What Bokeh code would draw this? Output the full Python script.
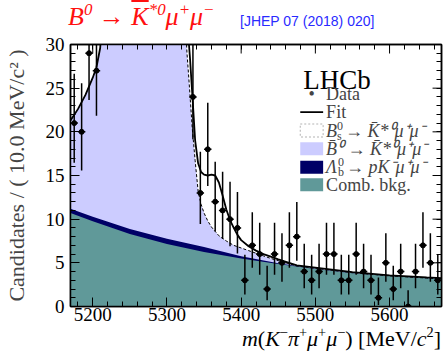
import numpy as np
from bokeh.plotting import figure
from bokeh.layouts import column
from bokeh.models import Label, BoxAnnotation, LinearAxis, FixedTicker, Div
from bokeh.embed import file_html
from bokeh.resources import INLINE

nan = float("nan")

# ---------------- data ----------------
bin_centers = list(range(5175, 5670, 10))          # 10 MeV bins
counts = [21, 20, 29, 27,
          nan, nan, nan, nan, nan, nan, nan, nan, nan, nan, nan, nan,   # off scale
          24, 13, 18, 12, 11, 10, 9, 3, 7, 6,
          2, 6, 5, 7, 8, 4, 3, 4, 6, 6,
          3, 3, 6, 4, 3, 1, 5, 2, 4, 0,
          4, 7, 5, 3]

# total fit
fit_m = [5170, 5180, 5190, 5200, 5205, 5210, 5214, 5222, 5240, 5260, 5280, 5300,
         5315, 5322, 5327, 5331, 5334, 5338, 5342, 5346, 5350, 5355, 5360, 5365,
         5370, 5375, 5380, 5385, 5390, 5395, 5400, 5410, 5420, 5430, 5440, 5450,
         5475, 5500, 5550, 5600, 5650, 5670]
fit_y = [21.3, 22.6, 24.2, 26.2, 27.4, 29.6, 34, 50, 130, 260, 330, 240,
         110, 60, 33, 28.5, 24.5, 19.0, 16.4, 15.4, 15.1, 15.0, 15.1, 15.0,
         14.2, 12.7, 11.1, 9.9, 9.0, 8.2, 7.6, 6.9, 6.4, 6.0, 5.7, 5.4,
         4.72, 4.46, 3.93, 3.57, 3.33, 3.26]

# stacked top of the B0 -> K*0 mu mu component
b0_m = [5170, 5180, 5190, 5200, 5205, 5210, 5214, 5222, 5240, 5260, 5280, 5300,
        5315, 5320, 5324, 5327, 5330, 5334, 5338, 5342, 5346, 5350, 5355, 5360,
        5365, 5370, 5380, 5390, 5400, 5410, 5420, 5430, 5440, 5450, 5475, 5500,
        5550, 5600, 5650, 5670]
b0_top = [21.3, 22.6, 24.2, 26.2, 27.4, 29.6, 34, 50, 130, 260, 330, 240,
          110, 55, 34, 29.0, 25.5, 20.5, 16.7, 13.2, 11.7, 10.7, 9.8, 9.1,
          8.6, 8.1, 7.5, 7.0, 6.7, 6.4, 6.1, 5.8, 5.5, 5.25, 4.65, 4.38,
          3.87, 3.51, 3.26, 3.18]

# combinatorial background and Lambda_b (stacked tops)
comb_m = [5170, 5200, 5250, 5300, 5350, 5400, 5450, 5500, 5550, 5600, 5650, 5670]
comb_top = [10.7, 9.75, 8.3, 7.15, 6.25, 5.5, 4.87, 4.3, 3.82, 3.48, 3.24, 3.16]
lb_top = [11.2, 10.27, 8.86, 7.77, 6.8, 5.75, 4.94, 4.32, 3.82, 3.48, 3.24, 3.16]

x_major = [5200, 5300, 5400, 5500, 5600]
x_minor = list(range(5180, 5670, 20))
y_major = [0, 5, 10, 15, 20, 25, 30]
y_minor = list(range(0, 31))

# ---------------- colours / fonts ----------------
C_B0 = "#ccccff"
C_LB = "#000066"
C_COMB = "#609999"
SERIF = "Liberation Serif"
SANS = "Liberation Sans"

W = 443
HEAD_H = 32
FOOT_H = 20
MAIN_H = 351 - HEAD_H - FOOT_H

X0, X1, Y0, Y1 = 5170, 5670, 0, 30
# frame position on the page
FL, FR, FT, FB = 68.0, 441.0, 44.0, 306.0


def mx(px):
    return X0 + (px - FL) * (X1 - X0) / (FR - FL)


def cy(py):
    return Y0 + (FB - py) * (Y1 - Y0) / (FB - FT)


SUP = "<sup style='font-size:65%;vertical-align:0.6em;line-height:0'>"

# ---------------- header (title, real HTML text) ----------------
title_html = (
    "<div style='position:relative;width:%dpx;height:%dpx;margin:0;padding:0;'>" % (W, HEAD_H)
    + "<span style='position:absolute;left:68px;top:4px;white-space:nowrap;"
      "font-family:\"Liberation Serif\";font-style:italic;font-size:26px;line-height:26px;"
      "color:#ff1010;'>"
    + "B" + SUP + "0</sup> &#8594; "
    + "<span style='text-decoration:overline;'>K</span>" + SUP + "*0</sup>"
    + "&#956;" + SUP + "+</sup>&#956;" + SUP + "&#8722;</sup></span>"
    + "<span style='position:absolute;left:240px;top:14px;white-space:nowrap;"
      "font-family:\"Liberation Sans\";font-size:14px;line-height:14px;color:#2a2aff;'>"
    + "[JHEP 07 (2018) 020]</span>"
    + "</div>"
)
head = Div(text=title_html, width=W, height=HEAD_H, margin=0)

# ---------------- footer (x-axis title, real HTML text) ----------------
xlab_html = (
    "<div style='position:relative;width:%dpx;height:%dpx;margin:0;padding:0;'>" % (W, FOOT_H)
    + "<span style='position:absolute;right:%dpx;top:-3px;white-space:nowrap;" % int(W - FR)
    + "font-family:\"Liberation Serif\";font-size:22px;line-height:22px;color:black;'>"
    + "<i>m</i>(<i>K</i>" + SUP + "&#8722;</sup><i>&#960;</i>" + SUP + "+</sup>"
    + "<i>&#956;</i>" + SUP + "+</sup><i>&#956;</i>" + SUP + "&#8722;</sup>) "
    + "[MeV/<i>c</i>" + SUP + "2</sup>]</span>"
    + "</div>"
)
foot = Div(text=xlab_html, width=W, height=FOOT_H, margin=0)

# ---------------- main figure ----------------
p = figure(width=W, height=MAIN_H, x_range=(X0, X1), y_range=(Y0, Y1),
           output_backend="svg", toolbar_location=None, title_location=None,
           min_border_left=int(FL), min_border_right=int(W - FR),
           min_border_top=int(FT - HEAD_H), min_border_bottom=MAIN_H - int(FB - HEAD_H))
p.grid.visible = False
p.outline_line_color = "black"
p.outline_line_width = 1.5
p.background_fill_color = "white"
p.border_fill_color = "white"


def style_axis(ax):
    ax.major_tick_in = 9
    ax.major_tick_out = 0
    ax.minor_tick_in = 5
    ax.minor_tick_out = 0
    ax.major_tick_line_color = "black"
    ax.minor_tick_line_color = "black"
    ax.major_tick_line_width = 1
    ax.minor_tick_line_width = 1
    ax.axis_line_color = "black"
    ax.axis_line_width = 1.5
    ax.major_label_text_font = SERIF
    ax.major_label_text_font_size = "19px"
    ax.major_label_text_color = "black"


p.xaxis.ticker = FixedTicker(ticks=x_major, minor_ticks=x_minor)
p.yaxis.ticker = FixedTicker(ticks=y_major, minor_ticks=y_minor)
style_axis(p.xaxis[0])
style_axis(p.yaxis[0])
p.xaxis[0].major_label_standoff = 1
p.yaxis[0].major_label_standoff = 6

p.yaxis[0].axis_label = "Candidates / ( 10.0 MeV/c\u00b2 )"
p.yaxis[0].axis_label_text_font = SERIF
p.yaxis[0].axis_label_text_font_style = "normal"
p.yaxis[0].axis_label_text_font_size = "22px"
p.yaxis[0].axis_label_standoff = 14

# mirror axes (ticks only) on top and right
top_ax = LinearAxis(ticker=FixedTicker(ticks=[], minor_ticks=sorted(set(x_major + x_minor))))
right_ax = LinearAxis(ticker=FixedTicker(ticks=[], minor_ticks=y_minor))
for ax in (top_ax, right_ax):
    ax.minor_tick_in = 5
    ax.minor_tick_out = 0
    ax.minor_tick_line_color = "black"
    ax.axis_line_color = "black"
    ax.axis_line_width = 1.5
    ax.major_tick_line_color = None
p.add_layout(top_ax, "above")
p.add_layout(right_ax, "right")

# longer major ticks on the mirror axes
TICK_Y = 9 * (Y1 - Y0) / (FB - FT)
TICK_X = 9 * (X1 - X0) / (FR - FL)
p.segment(x0=x_major, y0=[Y1] * len(x_major), x1=x_major, y1=[Y1 - TICK_Y] * len(x_major),
          line_color="black", line_width=1)
p.segment(x0=[X1] * len(y_major), y0=y_major, x1=[X1 - TICK_X] * len(y_major), y1=y_major,
          line_color="black", line_width=1, level="overlay")

# ---------------- stacked components (painter order) ----------------
p.varea(x=b0_m, y1=[0] * len(b0_m), y2=b0_top, fill_color=C_B0)
p.varea(x=comb_m, y1=[0] * len(comb_m), y2=lb_top, fill_color=C_LB)
p.varea(x=comb_m, y1=[0] * len(comb_m), y2=comb_top, fill_color=C_COMB)

# Bs component outline (dashed) on the right of the B0 peak
i0 = b0_m.index(5324)
p.line(b0_m[i0:], b0_top[i0:], line_color="black", line_width=1, line_dash="3 2")

# total fit
p.line(fit_m, fit_y, line_color="black", line_width=1.8)

# ---------------- data with Poisson errors ----------------
n = np.array(counts, dtype=float)
xb = np.array(bin_centers, dtype=float)
hi = n + np.sqrt(n + 0.75) + 1.0
with np.errstate(invalid="ignore", divide="ignore"):
    lo = np.where(n > 0, n * (1 - 1 / (9 * n) - 1 / (3 * np.sqrt(n))) ** 3, 0.0)
lo = np.where(np.isnan(n), np.nan, lo)
p.segment(x0=xb, y0=lo, x1=xb, y1=hi, line_color="black", line_width=1.5)
p.segment(x0=xb - 5, y0=n, x1=xb + 5, y1=n, line_color="black", line_width=1.5)
p.scatter(xb, n, size=5, marker="circle", fill_color="black", line_color="black")

# ---------------- legend (drawn by hand) ----------------
rows = [93.3, 111.7, 130.0, 148.3, 166.7, 184.3]
BL, BR, TX = 299.0, 322.0, 325.0
HH = 6.5
LEG_FS = "18px"
SUP_FS = "12px"

p.add_layout(Label(x=mx(302), y=cy(79.3), text="LHCb", text_font=SERIF,
                   text_font_size="27px", text_color="black",
                   text_baseline="alphabetic"))

# Data
p.add_layout(Label(x=mx((BL + BR) / 2), y=cy(rows[0]), text="\u2022", text_font=SERIF,
                   text_font_size="18px", text_align="center", text_baseline="middle"))
p.add_layout(Label(x=mx(TX), y=cy(rows[0]), text="Data", text_font=SERIF,
                   text_font_size=LEG_FS, text_baseline="middle"))
# Fit
p.add_layout(BoxAnnotation(left=mx(BL), right=mx(BR), top=cy(rows[1] - 0.9),
                           bottom=cy(rows[1] + 0.9), fill_color="black", fill_alpha=1,
                           line_color=None))
p.add_layout(Label(x=mx(TX), y=cy(rows[1]), text="Fit", text_font=SERIF,
                   text_font_size=LEG_FS, text_baseline="middle"))
# Bs
p.add_layout(BoxAnnotation(left=mx(BL), right=mx(BR), top=cy(rows[2] - HH),
                           bottom=cy(rows[2] + HH), fill_alpha=0, line_color="black",
                           line_width=1, line_dash="2 2"))
p.add_layout(Label(x=mx(TX), y=cy(rows[2]), text="B", text_font=SERIF,
                   text_font_style="italic", text_font_size=LEG_FS, text_baseline="middle"))
p.add_layout(Label(x=mx(TX + 11), y=cy(rows[2] - 5), text="0", text_font=SERIF,
                   text_font_size=SUP_FS, text_baseline="middle"))
p.add_layout(Label(x=mx(TX + 11), y=cy(rows[2] + 5), text="s", text_font=SERIF,
                   text_font_size=SUP_FS, text_baseline="middle"))
p.add_layout(Label(x=mx(TX + 19), y=cy(rows[2]),
                   text="\u2192 K\u0304*\u2070\u03bc\u207a\u03bc\u207b",
                   text_font=SERIF, text_font_style="italic", text_font_size=LEG_FS,
                   text_baseline="middle"))
# B0
p.add_layout(BoxAnnotation(left=mx(BL), right=mx(BR), top=cy(rows[3] - HH),
                           bottom=cy(rows[3] + HH), fill_color=C_B0, fill_alpha=1,
                           line_color=None))
p.add_layout(Label(x=mx(TX), y=cy(rows[3]),
                   text="B\u0304\u2070 \u2192 K\u0304*\u2070\u03bc\u207a\u03bc\u207b",
                   text_font=SERIF, text_font_style="italic", text_font_size=LEG_FS,
                   text_baseline="middle"))
# Lambda_b
p.add_layout(BoxAnnotation(left=mx(BL), right=mx(BR), top=cy(rows[4] - HH),
                           bottom=cy(rows[4] + HH), fill_color=C_LB, fill_alpha=1,
                           line_color=None))
p.add_layout(Label(x=mx(TX), y=cy(rows[4]), text="\u039b", text_font=SERIF,
                   text_font_style="italic", text_font_size=LEG_FS, text_baseline="middle"))
p.add_layout(Label(x=mx(TX + 12), y=cy(rows[4] - 5), text="0", text_font=SERIF,
                   text_font_size=SUP_FS, text_baseline="middle"))
p.add_layout(Label(x=mx(TX + 12), y=cy(rows[4] + 5), text="b", text_font=SERIF,
                   text_font_size=SUP_FS, text_baseline="middle"))
p.add_layout(Label(x=mx(TX + 20), y=cy(rows[4]),
                   text="\u2192 pK\u207b\u03bc\u207a\u03bc\u207b",
                   text_font=SERIF, text_font_style="italic", text_font_size=LEG_FS,
                   text_baseline="middle"))
# Comb
p.add_layout(BoxAnnotation(left=mx(BL), right=mx(BR), top=cy(rows[5] - HH),
                           bottom=cy(rows[5] + HH), fill_color=C_COMB, fill_alpha=1,
                           line_color=None))
p.add_layout(Label(x=mx(TX), y=cy(rows[5]), text="Comb. bkg.", text_font=SERIF,
                   text_font_size=LEG_FS, text_baseline="middle"))

layout = column(head, p, foot, spacing=0)
open("out.html", "w").write(file_html(layout, INLINE))
